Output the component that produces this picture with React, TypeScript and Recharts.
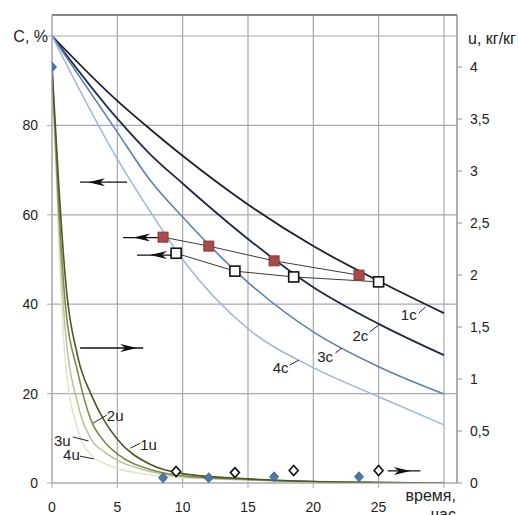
import { ComposedChart, Line, XAxis, YAxis, CartesianGrid, ReferenceLine, ReferenceDot } from "recharts";

// время, час (общая ось)
const xTicks = [0, 5, 10, 15, 20, 25, 30];
const cTicks = [0, 20, 40, 60, 80, 100];
const uTicks = [0, 0.5, 1, 1.5, 2, 2.5, 3, 3.5, 4];

// C, % — расчётные кривые 1c..4c
const cTime = [0, 5, 7.5, 10, 15, 20, 25, 30];
const c1 = [100, 85.5, 79.2, 73.2, 62.3, 53.0, 45.2, 38];
const c2 = [100, 81.5, 73.6, 67.0, 54.6, 43.8, 35.6, 28.6];
const c3 = [100, 78.5, 67.8, 59.5, 44.9, 33.8, 26, 19.9];
const c4 = [100, 72.5, 60.8, 50, 34.5, 25.8, 19.3, 13];

// u, кг/кг — расчётные кривые 1u..4u
const uTime = [0, 0.5, 1, 2, 3, 4, 5, 7.5, 10, 15, 20, 25, 30];
const u1 = [4.0, 2.9, 2.0, 1.2, 0.85, 0.6, 0.42, 0.18, 0.09, 0.04, 0.015, 0.005, 0];
const u2 = [4.0, 2.7, 1.75, 1.05, 0.6, 0.4, 0.28, 0.13, 0.07, 0.035, 0.015, 0.005, 0];
const u3 = [4.0, 2.55, 1.5, 0.75, 0.42, 0.3, 0.22, 0.11, 0.06, 0.03, 0.012, 0.005, 0];
const u4 = [4.0, 2.4, 1.2, 0.5, 0.27, 0.19, 0.14, 0.08, 0.05, 0.03, 0.012, 0.005, 0];

// эксперимент
const blueTime = [0, 8.5, 12, 17, 23.5];
const blueU = [4.0, 0.05, 0.05, 0.06, 0.06];
const openDiaTime = [9.5, 14, 18.5, 25];
const openDiaU = [0.11, 0.1, 0.12, 0.12];
const redTime = [8.5, 12, 17, 23.5];
const redC = [55.0, 53.0, 49.7, 46.5];
const openSqTime = [9.5, 14, 18.5, 25];
const openSqC = [51.4, 47.4, 46.1, 45.0];

// стрелки (в единицах C)
const arrows = [
  { from: 2.15, to: 5.75, y: 67.3, tip: 2.76, dir: -1 },
  { from: 2.15, to: 6.98, y: 30.2, tip: 6.52, dir: 1 },
  { from: 5.44, to: 8.5, y: 54.9, tip: 6.21, dir: -1 },
  { from: 6.5, to: 9.5, y: 51.0, tip: 7.5, dir: -1 },
  { from: 25.7, to: 28.2, y: 2.7, tip: 27.45, dir: 1 },
];

// подписи кривых с выносками (в единицах C)
const labels = [
  { text: "1c", x: 26.7, y: 37.8, x1: 28.07, y1: 38.0, x2: 28.6, y2: 39.4 },
  { text: "2c", x: 23.0, y: 32.9, x1: 24.31, y1: 33.8, x2: 25.0, y2: 35.3 },
  { text: "3c", x: 20.3, y: 28.2, x1: 21.7, y1: 29.1, x2: 22.2, y2: 30.2 },
  { text: "4c", x: 16.9, y: 25.9, x1: 18.2, y1: 26.4, x2: 18.9, y2: 27.5 },
  { text: "2u", x: 4.2, y: 15.0, x1: 3.15, y1: 13.4, x2: 4.2, y2: 15.2 },
  { text: "3u", x: 0.15, y: 9.4, x1: 1.6, y1: 10.3, x2: 2.8, y2: 9.4 },
  { text: "4u", x: 0.85, y: 6.3, x1: 2.15, y1: 6.0, x2: 3.2, y2: 5.4 },
  { text: "1u", x: 6.75, y: 8.7, x1: 6.0, y1: 7.8, x2: 6.75, y2: 8.9 },
];

const pts = (xs: number[], ys: number[]) => xs.map((x, i) => ({ x, y: ys[i] }));

const font = "'Liberation Sans', Arial, sans-serif";
const textColor = "#222";
const gridColor = "#a9a9b1";

const cSeries = [
  { name: "1c", ys: c1, color: "#1b2131", w: 1.8 },
  { name: "2c", ys: c2, color: "#1e2b46", w: 1.8 },
  { name: "3c", ys: c3, color: "#5a80b6", w: 1.6 },
  { name: "4c", ys: c4, color: "#9cb6dc", w: 1.5 },
];
const uSeries = [
  { name: "4u", ys: u4, color: "#dfe5c9", w: 1.5 },
  { name: "3u", ys: u3, color: "#b7c495", w: 1.5 },
  { name: "2u", ys: u2, color: "#7a8c4c", w: 1.6 },
  { name: "1u", ys: u1, color: "#4a5922", w: 1.6 },
];

function diamond(cx: number, cy: number, fill: string, stroke: string, sw: number, key: any) {
  return (
    <path key={key} d={`M${cx},${cy - 5}L${cx + 4.5},${cy}L${cx},${cy + 5}L${cx - 4.5},${cy}Z`} fill={fill} stroke={stroke} strokeWidth={sw} />
  );
}

function square(cx: number, cy: number, fill: string, stroke: string, sw: number, key: any) {
  return <rect key={key} x={cx - 5} y={cy - 5} width={10} height={10} fill={fill} stroke={stroke} strokeWidth={sw} />;
}

function arrowShape(a: { from: number; to: number; tip: number; dir: number }) {
  return (p: any) => {
    const { x1, y1, x2, y2 } = p;
    const t = (a.tip - a.from) / (a.to - a.from);
    const tx = x1 + (x2 - x1) * t;
    const ty = y1 + (y2 - y1) * t;
    const s = -a.dir;
    return (
      <g>
        <line x1={x1} y1={y1} x2={x2} y2={y2} stroke="#111" strokeWidth={1.3} />
        <path d={`M${tx},${ty}L${tx + 17 * s},${ty - 4}L${tx + 12 * s},${ty}L${tx + 17 * s},${ty + 4}Z`} fill="#111" />
      </g>
    );
  };
}

function LeftTick(props: any) {
  const { x, y, payload } = props;
  if (payload.value === 100) {
    return (
      <text x={x + 10} y={y} textAnchor="end" dominantBaseline="central" fontSize={16} fill={textColor} fontFamily={font}>
        C, %
      </text>
    );
  }
  return (
    <text x={x} y={y} textAnchor="end" dominantBaseline="central" fontSize={14} fill={textColor} fontFamily={font}>
      {payload.value}
    </text>
  );
}

function RightTick(props: any) {
  const { x, y, payload } = props;
  return (
    <text x={x} y={y} textAnchor="start" dominantBaseline="central" fontSize={14} fill={textColor} fontFamily={font}>
      {String(payload.value).replace(".", ",")}
    </text>
  );
}

function BottomTick(props: any) {
  const { x, y, payload } = props;
  if (payload.value === 30) {
    return (
      <g fontSize={16} fill={textColor} fontFamily={font}>
        <text x={x + 12} y={y + 5} textAnchor="end" dominantBaseline="central">
          время,
        </text>
        <text x={x + 12} y={y + 24} textAnchor="end" dominantBaseline="central">
          час
        </text>
      </g>
    );
  }
  return (
    <text x={x} y={y + 17} textAnchor="middle" dominantBaseline="central" fontSize={14} fill={textColor} fontFamily={font}>
      {payload.value}
    </text>
  );
}

export default function App() {
  return (
    <div style={{ position: "absolute", left: 0, top: 0, width: 518, height: 515, background: "#fff" }}>
      <ComposedChart width={518} height={515} margin={{ top: 15, right: 0, bottom: 0, left: 0 }}>
        <CartesianGrid yAxisId="c" stroke={gridColor} strokeWidth={1.2} />
        <XAxis
          dataKey="x"
          type="number"
          domain={[0, 31]}
          ticks={xTicks}
          allowDataOverflow
          height={32}
          stroke={gridColor}
          tickSize={5}
          tickMargin={2}
          tick={<BottomTick />}
        />
        <YAxis
          yAxisId="c"
          orientation="left"
          type="number"
          domain={[0, 104.7]}
          ticks={cTicks}
          allowDataOverflow
          width={52}
          stroke={gridColor}
          tickSize={5}
          tickMargin={9}
          tick={<LeftTick />}
        />
        <YAxis
          yAxisId="u"
          orientation="right"
          type="number"
          domain={[0, 4.5]}
          ticks={uTicks}
          allowDataOverflow
          width={61}
          stroke="#8f8f96"
          tickSize={5}
          tickMargin={8}
          tick={<RightTick />}
          label={(p: any) => (
            <text
              x={p.viewBox.x + 11}
              y={p.viewBox.y + 23}
              dominantBaseline="central"
              fontSize={16}
              fill={textColor}
              fontFamily={font}
            >
              u, кг/кг
            </text>
          )}
        />
        <ReferenceLine yAxisId="c" y={104.7} stroke="#6b6b70" strokeWidth={1.5} />

        {uSeries.map((s) => (
          <Line
            key={s.name}
            yAxisId="u"
            data={pts(uTime, s.ys)}
            dataKey="y"
            type="monotone"
            stroke={s.color}
            strokeWidth={s.w}
            dot={false}
            isAnimationActive={false}
          />
        ))}
        {cSeries.map((s) => (
          <Line
            key={s.name}
            yAxisId="c"
            data={pts(cTime, s.ys)}
            dataKey="y"
            type="monotone"
            stroke={s.color}
            strokeWidth={s.w}
            dot={false}
            isAnimationActive={false}
          />
        ))}

        <Line
          yAxisId="c"
          data={pts(redTime, redC)}
          dataKey="y"
          type="linear"
          stroke="#3a3a3a"
          strokeWidth={1}
          dot={(p: any) => square(p.cx, p.cy, "#a84a4a", "#8a3636", 1, p.index)}
          isAnimationActive={false}
        />
        <Line
          yAxisId="c"
          data={pts(openSqTime, openSqC)}
          dataKey="y"
          type="linear"
          stroke="#3a3a3a"
          strokeWidth={1}
          dot={(p: any) => square(p.cx, p.cy, "#fff", "#111", 1.6, p.index)}
          isAnimationActive={false}
        />
        <Line
          yAxisId="u"
          data={pts(blueTime, blueU)}
          dataKey="y"
          stroke="none"
          dot={(p: any) => diamond(p.cx, p.cy, "#4f77a9", "#44699a", 1, p.index)}
          isAnimationActive={false}
        />
        <Line
          yAxisId="u"
          data={pts(openDiaTime, openDiaU)}
          dataKey="y"
          stroke="none"
          dot={(p: any) => diamond(p.cx, p.cy, "#fff", "#111", 1.6, p.index)}
          isAnimationActive={false}
        />

        {arrows.map((a, i) => (
          <ReferenceLine
            key={"a" + i}
            yAxisId="c"
            segment={[
              { x: a.from, y: a.y },
              { x: a.to, y: a.y },
            ]}
            shape={arrowShape(a)}
          />
        ))}
        {labels.map((l) => (
          <ReferenceLine
            key={"l" + l.text}
            yAxisId="c"
            segment={[
              { x: l.x1, y: l.y1 },
              { x: l.x2, y: l.y2 },
            ]}
            stroke="#222"
            strokeWidth={1}
          />
        ))}
        {labels.map((l) => (
          <ReferenceDot
            key={"t" + l.text}
            yAxisId="c"
            x={l.x}
            y={l.y}
            r={1}
            shape={(p: any) => (
              <text x={p.cx} y={p.cy} dominantBaseline="central" fontSize={15} fill={textColor} fontFamily={font}>
                {l.text}
              </text>
            )}
          />
        ))}
      </ComposedChart>
    </div>
  );
}
